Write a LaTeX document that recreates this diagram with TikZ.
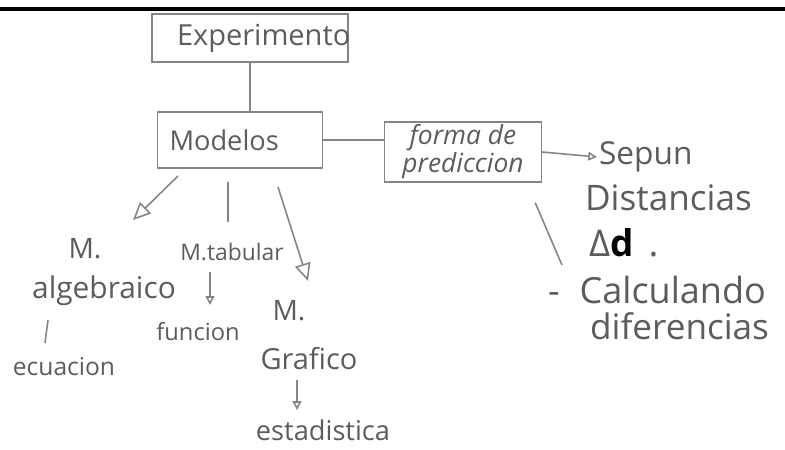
\documentclass[tikz,border=0pt]{standalone}
\usepackage{fontspec}
\setmainfont{Open Sans}
\usetikzlibrary{arrows.meta}
\definecolor{lapiz}{rgb}{0.36,0.36,0.36}
\definecolor{grafito}{rgb}{0.52,0.52,0.52}
\newcommand{\letra}[1]{\fontsize{#1}{#1}\selectfont}

\begin{document}
\begin{tikzpicture}[x=0.02cm, y=-0.02cm,
		mano/.style={text=lapiz, inner sep=1pt},
		caja/.style={draw=grafito, line width=0.8pt, text=lapiz, align=left, inner ysep=0pt},
		trazo/.style={draw=grafito, line width=0.9pt},
		punta/.style={trazo, -{Triangle[open, length=10pt, width=9pt]}},
		puntita/.style={trazo, -{Triangle[open, length=5pt, width=5pt]}}]
	\useasboundingbox (0,0) rectangle (785,450);
	\draw[line width=2.4pt] (0,9) -- (785,9);

	% cajas
	\node[caja, minimum height=0.96cm, inner xsep=0.5cm, text width=2.92cm, font=\letra{16.5}] (exp) at (250,38) {Experimento};
	\node[caja, minimum height=1.12cm, inner xsep=0.24cm, text width=2.82cm, font=\letra{15.5}] (mod) at (240,140) {Modelos};
	\node[caja, minimum width=3.14cm, minimum height=1.2cm, align=center, font=\itshape\fontsize{15}{16}\selectfont] (forma) at (463,152) {forma de\\prediccion};

	% ramas de los modelos
	\node[mano, font=\letra{16}] (algM) at (85,249) {M.};
	\node[mano, font=\letra{17}] (alg) at (104,291) {algebraico};
	\node[mano, font=\letra{14}] (ecu) at (64,367) {ecuacion};
	\node[mano, font=\letra{13}] (tab) at (232,252) {M.tabular};
	\node[mano, font=\letra{13.5}] (fun) at (198,332) {funcion};
	\node[mano, font=\letra{16}] (graM) at (289,311) {M.};
	\node[mano, font=\letra{16.5}] (gra) at (309,359) {Grafico};
	\node[mano, font=\letra{15.5}] (est) at (323,430) {estadistica};

	% columna derecha
	\foreach \nombre/\x/\y/\s/\texto in {sepun/597/157/18/Sepun, dist/583/198/20/Distancias,
			delta/587/243/21/{Δ\textbf{\color{black}d}\hspace{0.3cm}.}, calc/546/290/20.5/{-\hspace{0.4cm}Calculando}, dif/588/326/20/diferencias}
		\node[mano, anchor=west, font=\letra{\s}] (\nombre) at (\x,\y) {\texto};

	\draw[trazo] (exp.south) -- (exp.south |- mod.north);
	\draw[trazo] (mod.east) -- (mod.east -| forma.west);
	\draw[puntita] (forma.east) -- (sepun.west);
	\draw[trazo] ([shift={(-7,20)}]forma.south east) -- ([shift={(16,-25)}]calc.west);

	\draw[punta] ([shift={(-62,36)}]mod.center) -- ([shift={(48,-29)}]algM.center);
	\draw[trazo] ([shift={(-12,42)}]mod.center) -- ([shift={(-4,-30)}]tab.center);
	\draw[punta] ([shift={(38,47)}]mod.center) -- ([shift={(19,-30)}]graM.center);

	\draw[trazo] ([shift={(-56,29)}]alg.center) -- ([shift={(-19,-24)}]ecu.center);
	\draw[puntita] ([shift={(-22,20)}]tab.center) -- ([shift={(12,-27)}]fun.center);
	\draw[puntita] ([shift={(-12,21)}]gra.center) -- ([shift={(-26,-20)}]est.center);
\end{tikzpicture}
\end{document}
